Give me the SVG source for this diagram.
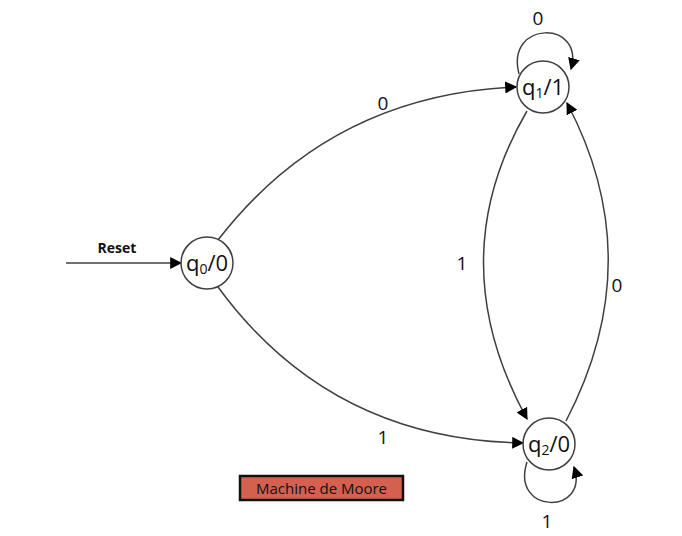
<svg xmlns="http://www.w3.org/2000/svg" width="682" height="536" viewBox="0 0 682 536">
<style>
.st{fill:#fff;stroke:#404040;stroke-width:1.5}
.e{fill:none;stroke:#404040;stroke-width:1.5}
.t{font-family:"Open Sans","Liberation Sans",sans-serif;fill:#111}
.n{font-size:22px}
.l{font-size:19px}
</style>
<defs>
<marker id="a" viewBox="0 0 10 10" refX="9" refY="5" markerWidth="12" markerHeight="12" markerUnits="userSpaceOnUse" orient="auto"><path d="M0,0L10,5L0,10z" fill="#000"/></marker>
</defs>
<rect width="682" height="536" fill="#fff"/>
<g id="connectors">
<line class="e" x1="66" y1="263" x2="181" y2="263" marker-end="url(#a)"/>
<path class="e" d="M218,240 Q330,95 516,87" marker-end="url(#a)"/>
<path class="e" d="M218,287 Q330,440 523,443" marker-end="url(#a)"/>
<path class="e" d="M527,111 Q440,260 527,419" marker-end="url(#a)"/>
<path class="e" d="M566,421 Q650,260 567,103" marker-end="url(#a)"/>
<path class="e" d="M519,74 C505,20 585,20 571,69" marker-end="url(#a)"/>
<path class="e" d="M527,462 C510,515 590,515 574,467" marker-end="url(#a)"/>
</g>
<g id="q0"><circle class="st" cx="207" cy="263" r="26"/><text class="t n" x="207" y="271" text-anchor="middle">q<tspan font-size="14" dy="3">0</tspan><tspan dy="-3">/0</tspan></text></g>
<g id="q1"><circle class="st" cx="543" cy="87" r="26"/><text class="t n" x="543" y="95" text-anchor="middle">q<tspan font-size="14" dy="3">1</tspan><tspan dy="-3">/1</tspan></text></g>
<g id="q2"><circle class="st" cx="549" cy="444" r="26"/><text class="t n" x="549" y="452" text-anchor="middle">q<tspan font-size="14" dy="3">2</tspan><tspan dy="-3">/0</tspan></text></g>
<g id="labels">
<text class="t" x="117" y="253" font-size="14" font-weight="bold" text-anchor="middle">Reset</text>
<text class="t l" x="383" y="110" text-anchor="middle">0</text>
<text class="t l" x="383" y="444" text-anchor="middle">1</text>
<text class="t l" x="462" y="270" text-anchor="middle">1</text>
<text class="t l" x="617" y="292" text-anchor="middle">0</text>
<text class="t l" x="538" y="25" text-anchor="middle">0</text>
<text class="t l" x="547" y="528" text-anchor="middle">1</text>
</g>
<g id="title"><rect x="240" y="476" width="163" height="24" fill="#d4604f" stroke="#111" stroke-width="2.5"/><text class="t" x="321.5" y="494" font-size="15" text-anchor="middle" fill="#3a1a14">Machine de Moore</text></g>
</svg>
